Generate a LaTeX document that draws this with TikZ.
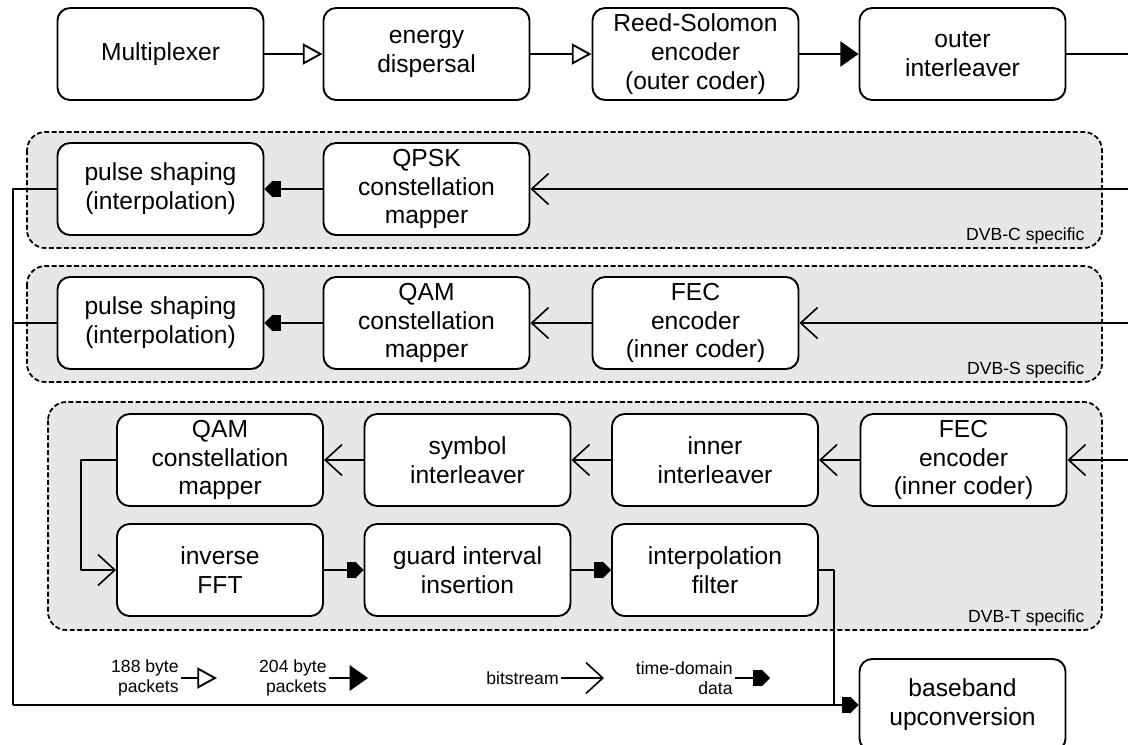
\documentclass[tikz,border=0pt]{standalone}
\usepackage{fontspec}
\setmainfont{Liberation Sans}
\usetikzlibrary{arrows.meta}
\definecolor{panel}{RGB}{230,231,232}

\begin{document}
\begin{tikzpicture}[x=0.025cm, y=-0.025cm, line join=round, line width=1.35pt,
  block/.style={draw, fill=white, rounded corners=9pt, minimum width=5.15cm,
    minimum height=2.3cm, align=center, inner sep=2pt,
    font=\fontsize{17.5}{20.5}\selectfont},
  group/.style={draw, fill=panel, dash pattern=on 3.5pt off 1.8pt,
    line width=1.25pt, rounded corners=13pt},
  tag/.style={anchor=base east, font=\fontsize{12.5}{15}\selectfont},
  key/.style={anchor=east, align=right, inner sep=1pt,
    font=\fontsize{12.5}{14}\selectfont},
  pktA/.style={-{Triangle[open, length=14pt, width=15pt]}},
  pktB/.style={-{Triangle[length=13pt, width=18pt]}},
  bits/.style={line width=1.15pt, -{Straight Barb[length=12pt, width=22pt]}},
  samp/.style={-{Rectangle[length=6pt, width=12pt, sep=0pt]Triangle[length=6pt, width=12pt, sep=0pt]}}]
  \useasboundingbox (0,0) rectangle (1128,744);

  % standard-specific panels
  \draw[group] (27,132) rectangle (1102,248);
  \draw[group] (27,266) rectangle (1102,382);
  \draw[group] (48,402) rectangle (1102,630);
  \node[tag] (tagC) at (1090,240) {DVB-C specific};
  \node[tag] (tagS) at (1090,374) {DVB-S specific};
  \node[tag] (tagT) at (1090,622) {DVB-T specific};

  % common front end
  \node[block] (mux)   at (160.5,54) {Multiplexer};
  \node[block] (disp)  at (426.5,54) {energy\\dispersal};
  \node[block] (rs)    at (695.5,54) {Reed-Solomon\\encoder\\(outer coder)};
  \node[block] (outer) at (962.5,54) {outer\\interleaver};
  \coordinate (outR) at (1128,54);

  % DVB-C
  \node[block] (pulseC) at (160.5,189) {pulse shaping\\(interpolation)};
  \node[block] (qpsk)   at (426.5,189) {QPSK\\constellation\\mapper};
  \coordinate (inC) at (1128,189);

  % DVB-S
  \node[block] (pulseS) at (160.5,323) {pulse shaping\\(interpolation)};
  \node[block] (qamS)   at (426.5,323) {QAM\\constellation\\mapper};
  \node[block] (fecS)   at (695.5,323) {FEC\\encoder\\(inner coder)};
  \coordinate (inS) at (1128,323);

  % DVB-T
  \node[block] (qamT)   at (220,460)   {QAM\\constellation\\mapper};
  \node[block] (symb)   at (467.5,460) {symbol\\interleaver};
  \node[block] (inner)  at (715,460)   {inner\\interleaver};
  \node[block] (fecT)   at (963.5,460) {FEC\\encoder\\(inner coder)};
  \node[block] (ifft)   at (220,570)   {inverse\\FFT};
  \node[block] (guard)  at (467.5,570) {guard interval\\insertion};
  \node[block] (interp) at (715,570)   {interpolation\\filter};
  \coordinate (inT) at (1128,460);

  % output stage
  \node[block] (base) at (962.5,705) {baseband\\upconversion};
  \coordinate (busL) at (13,705);
  \coordinate (join) at (834,705);

  % front end chain
  \draw[pktA] (mux) -- (disp);
  \draw[pktA] (disp) -- (rs);
  \draw[pktB] (rs) -- (outer);
  \draw (outer) -- (outR);

  % per-standard chains
  \draw[bits] (inC) -- (qpsk);
  \draw[samp] (qpsk) -- (pulseC);
  \draw[bits] (inS) -- (fecS);
  \draw[bits] (fecS) -- (qamS);
  \draw[samp] (qamS) -- (pulseS);
  \draw[bits] (inT) -- (fecT);
  \draw[bits] (fecT) -- (inner);
  \draw[bits] (inner) -- (symb);
  \draw[bits] (symb) -- (qamT);
  \draw[bits] (qamT.west) -- ++(-35,0) |- (ifft.west);
  \draw[samp] (ifft) -- (guard);
  \draw[samp] (guard) -- (interp);

  % collecting bus into upconversion
  \draw (pulseC.west) -| (busL);
  \draw (pulseS.west) -- (pulseS.west -| busL);
  \draw (interp.east) -| (join);
  \draw[samp] (busL) -- (base);

  % legend
  \node[key] (k188) at (181,678) {188 byte\\packets};
  \node[key] (k204) at (329,678) {204 byte\\packets};
  \node[key] (kbit) at (561,678) {bitstream};
  \node[key] (ktd)  at (735,678) {time-domain\\data};
  \coordinate (k188e) at (217,678);
  \coordinate (k204e) at (368,678);
  \coordinate (kbite) at (604,678);
  \coordinate (ktde)  at (770,678);
  \draw[pktA] (k188) -- (k188e);
  \draw[pktB] (k204) -- (k204e);
  \draw[bits] (kbit) -- (kbite);
  \draw[samp] (ktd) -- (ktde);
\end{tikzpicture}
\end{document}
